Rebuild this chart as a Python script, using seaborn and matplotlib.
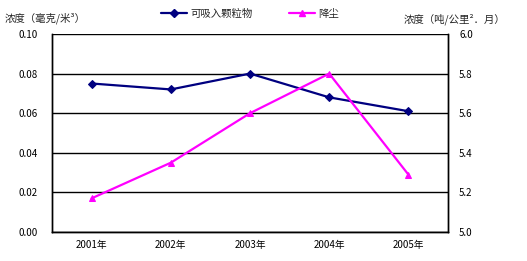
import matplotlib
matplotlib.use("Agg")
import matplotlib.pyplot as plt
import seaborn as sns
import pandas as pd
from matplotlib.lines import Line2D

years = ["2001年", "2002年", "2003年", "2004年", "2005年"]
pm = [0.075, 0.072, 0.080, 0.068, 0.061]
dust = [5.17, 5.35, 5.60, 5.80, 5.29]
left_ticks = [0.00, 0.02, 0.04, 0.06, 0.08, 0.10]
right_ticks = [5.0, 5.2, 5.4, 5.6, 5.8, 6.0]

sns.set_theme(style="white")
plt.rcParams['font.family'] = ['Noto Sans CJK SC', 'DejaVu Sans']

df = pd.DataFrame({"pos": range(len(years)), "year": years, "pm": pm, "dust": dust})

fig = plt.figure(figsize=(5.27, 2.61), dpi=100)
ax = fig.add_axes([52/527, 29/261, 396/527, 198/261])
ax2 = ax.twinx()

navy = "#000080"
mag = "#FF00FF"

sns.lineplot(data=df, x="pos", y="pm", ax=ax, color=navy, marker="D", markersize=4,
             markeredgecolor=navy, linewidth=1.6, legend=False)
sns.lineplot(data=df, x="pos", y="dust", ax=ax2, color=mag, marker="^", markersize=5,
             markeredgecolor=mag, linewidth=1.6, legend=False)

ax.set_xlim(-0.5, len(years) - 0.5)
ax.set_ylim(0, 0.10)
ax2.set_ylim(5.0, 6.0)
ax.set_yticks(left_ticks)
ax.set_yticklabels([f"{v:.2f}" for v in left_ticks])
ax2.set_yticks(right_ticks)
ax2.set_yticklabels([f"{v:.1f}" for v in right_ticks])
ax.set_xticks(range(len(years)))
ax.set_xticklabels(years)
ax.set_xticks([i + 0.5 for i in range(len(years) - 1)], minor=True)

ax.grid(axis="y", color="black", linewidth=1.0)
ax.set_axisbelow(True)
ax.set_xlabel("")
ax.set_ylabel("")
ax2.set_ylabel("")

for a in (ax, ax2):
    for s in a.spines.values():
        s.set_color("black")
        s.set_linewidth(1.0)
    a.spines["top"].set_visible(False)
ax.tick_params(axis="y", length=0, labelsize=7, pad=10, colors="black")
ax2.tick_params(axis="y", length=0, labelsize=7, pad=8, colors="black")
ax.tick_params(axis="x", which="major", length=0, labelsize=7, pad=6, colors="black")
ax.tick_params(axis="x", which="minor", length=3, direction="in", width=1, color="black")

fig.text(5/527, 1 - 18/261, "浓度（毫克/米³）", fontsize=7.5, va="center", ha="left")
fig.text(505/527, 1 - 19/261, "浓度（吨/公里²．月）", fontsize=7.5, va="center", ha="right")

handles = [
    Line2D([0], [0], color=navy, marker="D", markersize=4, linewidth=1.6),
    Line2D([0], [0], color=mag, marker="^", markersize=5, linewidth=1.6),
]
fig.legend(handles, ["可吸入颗粒物", "降尘"], loc="center", bbox_to_anchor=(250/527, 1 - 14/261),
           ncol=2, frameon=False, fontsize=7.5, handlelength=2.5, columnspacing=3.5,
           handletextpad=0.3)

fig.savefig("out.png", dpi=100)
